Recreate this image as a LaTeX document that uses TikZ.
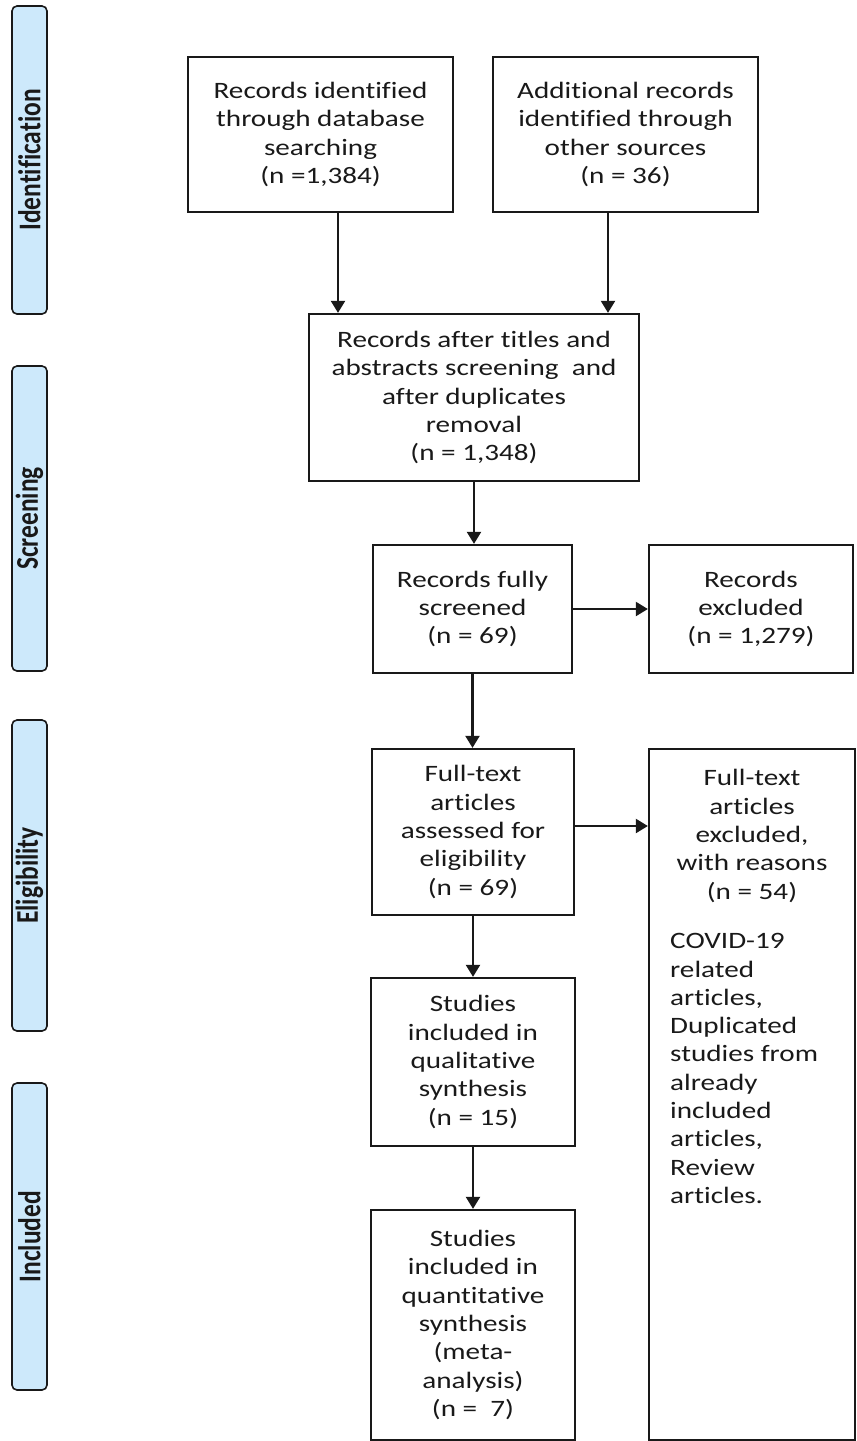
\documentclass[tikz,border=0pt]{standalone}
\usepackage{fontspec}
\setmainfont{Carlito}[Ligatures=NoCommon, RawFeature={-liga;-clig;-dlig;-calt}]
\newfontfamily\boxfont{Carlito}[FakeStretch=1.24, Ligatures=NoCommon, RawFeature={-liga;-clig;-dlig;-calt}]
\newcommand\tik{t\kern0pt i}
\usetikzlibrary{arrows.meta}
\definecolor{barblue}{RGB}{205,233,251}
\definecolor{ink}{RGB}{25,25,25}
\begin{document}
\begin{tikzpicture}[x=1pt,y=-1pt,
  box/.style={draw=ink, line width=2.3pt, inner sep=0pt, align=center, text=ink,
    font=\boxfont\fontsize{23.5}{28.3}\selectfont},
  txt/.style={inner sep=0pt, text=ink, font=\boxfont\fontsize{23.5}{28.3}\selectfont},
  bar/.style={draw=ink, line width=1.6pt, fill=barblue, rounded corners=5pt, rotate=90,
    inner sep=0pt, text=ink, font=\bfseries\fontsize{25.5}{30}\selectfont},
  arr/.style={draw=ink, line width=2.2pt, -{Triangle[width=14pt,length=12pt]}}]
\useasboundingbox (0,0) rectangle (857,1441);

% phase bars
\node[bar, minimum width=308, minimum height=35] (pid) at (29.5,160) {\scalebox{1}[1.24]{Iden\tik fica\tik on}};
\node[bar, minimum width=305, minimum height=35] (pscr) at (29.5,518.5) {\scalebox{1}[1.24]{Screening}};
\node[bar, minimum width=311, minimum height=35] (pel) at (29.5,875.5) {\scalebox{1}[1.24]{Eligibility}};
\node[bar, minimum width=307, minimum height=35] (pinc) at (29.5,1236.5) {\scalebox{1}[1.24]{Included}};

% boxes
\node[box, minimum width=265, minimum height=155] (b1) at (320.5,134.5)
  {Records iden\tik fied\\through database\\searching\\(n =1,384)};
\node[box, minimum width=265, minimum height=155] (b2) at (625.5,134.5)
  {Additional records\\iden\tik fied through\\other sources\\(n = 36)};
\node[box, minimum width=330, minimum height=167] (b3) at (474,397.5)
  {Records after \tik tles and\\abstracts screening\ \ and\\after duplicates\\removal\\(n = 1,348)};
\node[box, minimum width=199, minimum height=128] (b4) at (472.5,609)
  {Records fully\\screened\\(n = 69)};
\node[box, minimum width=204, minimum height=128] (b5) at (751,609)
  {Records\\excluded\\(n = 1,279)};
\node[box, minimum width=202, minimum height=166] (b6) at (473,832)
  {Full-text\\articles\\assessed for\\eligibility\\(n = 69)};
\node[box, minimum width=206, minimum height=691] (b7) at (752,1094.5) {};
\node[txt, align=center] (b7head) at (752,836)
  {Full-text\\articles\\excluded,\\with reasons\\(n = 54)};
\node[txt, align=left, anchor=west] (b7list) at (670,1068.5)
  {COVID-19\\related\\articles,\\Duplicated\\studies from\\already\\included\\articles,\\Review\\articles.};
\node[box, minimum width=204, minimum height=168] (b8) at (473,1062)
  {Studies\\included in\\qualita\tik ve\\synthesis\\(n = 15)};
\node[box, minimum width=204, minimum height=230] (b9) at (473,1325)
  {Studies\\included in\\quan\tik ta\tik ve\\synthesis\\(meta-\\analysis)\\(n =\ \ 7)};

% connectors
\draw[arr] ([xshift=17.5pt]b1.south) -- ([xshift=17.5pt]b1.south |- b3.north);
\draw[arr] ([xshift=-17.5pt]b2.south) -- ([xshift=-17.5pt]b2.south |- b3.north);
\draw[arr] (b3.south) -- (b3.south |- b4.north);
\draw[arr] (b4.east) -- (b5.west);
\draw[arr] (b4.south) -- (b4.south |- b6.north);
\draw[arr] ([yshift=6pt]b6.east) -- ([yshift=6pt]b6.east -| b7.west);
\draw[arr] (b6.south) -- (b6.south |- b8.north);
\draw[arr] (b8.south) -- (b8.south |- b9.north);
\end{tikzpicture}
\end{document}
